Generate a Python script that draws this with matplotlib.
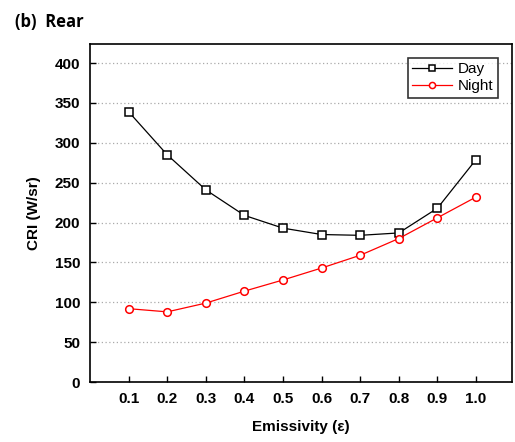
import numpy as np
import matplotlib.pyplot as plt

emissivity = [0.1, 0.2, 0.3, 0.4, 0.5, 0.6, 0.7, 0.8, 0.9, 1.0]
day = [339, 285, 241, 209, 193, 185, 184, 187, 218, 279]
night = [92, 88, 99, 114, 128, 143, 159, 180, 206, 232]
xtick_labels = ["0.1", "0.2", "0.3", "0.4", "0.5", "0.6", "0.7", "0.8", "0.9", "1.0"]
yticks = [0, 50, 100, 150, 200, 250, 300, 350, 400]

plt.rcParams['font.family'] = ['Liberation Sans', 'DejaVu Sans']

fig = plt.figure(figsize=(5.15, 4.42), dpi=100)
ax = fig.add_axes([0.1748, 0.1357, 0.8192, 0.7648])

ax.plot(emissivity, day, color="black", lw=0.9, marker="s", ms=5.5,
        mfc="white", mec="black", mew=1.1, label="Day")
ax.plot(emissivity, night, color="red", lw=0.9, marker="o", ms=5.5,
        mfc="white", mec="red", mew=1.1, label="Night")

ax.set_xlim(0.0, 1.093)
ax.set_ylim(0, 424)
ax.set_xticks(emissivity)
ax.set_xticklabels(xtick_labels, fontweight="bold", fontsize=11)
ax.set_yticks(yticks)
ax.set_yticklabels([str(v) for v in yticks], fontweight="bold", fontsize=11)
ax.tick_params(direction="in", length=4, width=1, pad=7)
ax.yaxis.grid(True, linestyle=(0, (1, 2)), color="#aaaaaa", lw=0.9)
for s in ax.spines.values():
    s.set_linewidth(1.2)

ax.set_xlabel("Emissivity (\u03b5)", fontweight="bold", fontsize=11, labelpad=10)
ax.set_ylabel("CRI (W/sr)", fontweight="bold", fontsize=11, labelpad=10)

leg = ax.legend(loc="upper right", fontsize=11, frameon=True, fancybox=False,
                edgecolor="black", borderaxespad=0.9, handlelength=2.6,
                handletextpad=0.4, borderpad=0.3, labelspacing=0.2,
                markerscale=0.8)
leg.get_frame().set_linewidth(1.2)

fig.text(0.03, 0.94, "(b)  Rear", fontsize=12, fontweight="bold",
         family=["Open Sans", "DejaVu Sans"])

fig.savefig("out.png", dpi=100)
